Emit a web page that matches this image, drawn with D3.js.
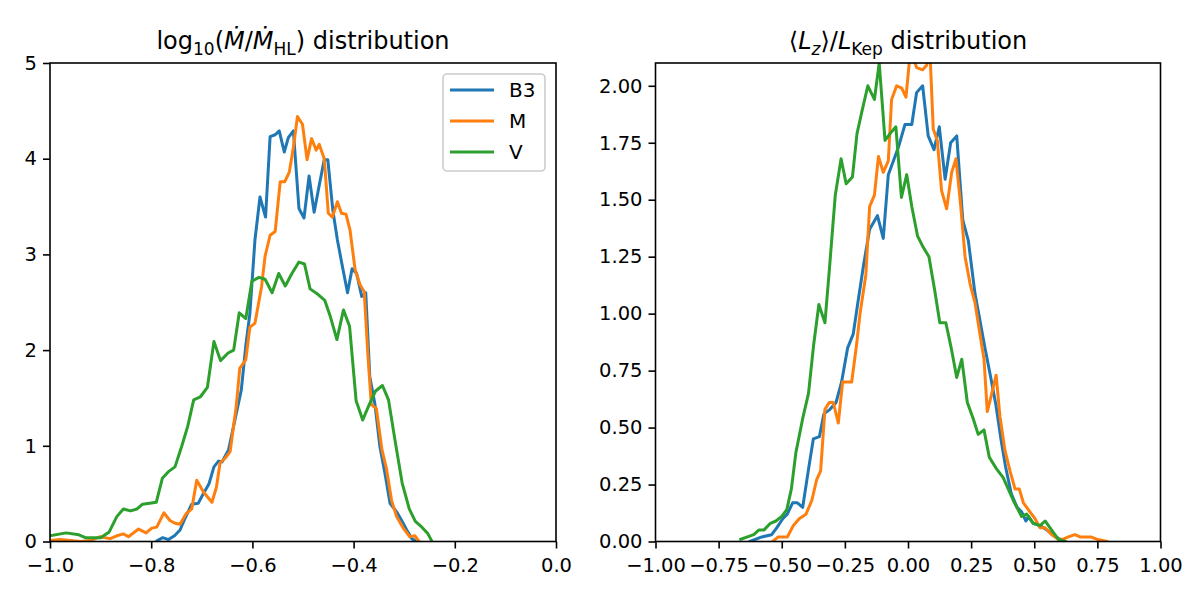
<!DOCTYPE html>
<html>
<head>
<meta charset="utf-8">
<script src="https://cdn.jsdelivr.net/npm/d3@7"></script>
<style>
  body { margin: 0; background: #fff; }
  text { font-family: "DejaVu Sans", sans-serif; fill: #000; }
</style>
</head>
<body>
<svg id="chart" width="1200" height="600"></svg>
<script>
// Series names and colours (matplotlib tab10).
const seriesNames = ["B3", "M", "V"];
const seriesColors = ["#1f77b4", "#ff7f0e", "#2ca02c"];

// log10(Mdot/Mdot_HL) histograms: [bin centre, density]
const mdotB3 = [[-0.788,0.01],[-0.777,0.04],[-0.766,0.02],[-0.754,0.06],[-0.743,0.12],[-0.735,0.22],[-0.728,0.30],[-0.720,0.39],[-0.707,0.40],[-0.697,0.50],[-0.686,0.60],[-0.676,0.78],[-0.667,0.84],[-0.660,0.83],[-0.647,0.96],[-0.635,1.26],[-0.622,1.58],[-0.613,2.05],[-0.605,2.38],[-0.595,3.15],[-0.585,3.60],[-0.574,3.39],[-0.565,4.23],[-0.555,4.25],[-0.547,4.29],[-0.537,4.07],[-0.529,4.22],[-0.519,4.29],[-0.508,3.48],[-0.498,3.38],[-0.488,3.82],[-0.478,3.44],[-0.468,3.72],[-0.458,3.99],[-0.451,3.99],[-0.441,3.46],[-0.432,3.15],[-0.422,2.87],[-0.412,2.60],[-0.403,2.85],[-0.394,2.80],[-0.384,2.56],[-0.376,2.60],[-0.368,1.72],[-0.358,1.44],[-0.348,0.99],[-0.338,0.71],[-0.328,0.40],[-0.315,0.31],[-0.305,0.22],[-0.295,0.12],[-0.285,0.03],[-0.279,0.01]];
const mdotM = [[-1.000,0.01],[-0.980,0.02],[-0.960,0.01],[-0.940,0.00],[-0.920,0.01],[-0.901,0.05],[-0.881,0.03],[-0.868,0.06],[-0.855,0.08],[-0.845,0.05],[-0.825,0.13],[-0.810,0.09],[-0.799,0.14],[-0.789,0.15],[-0.775,0.30],[-0.763,0.22],[-0.753,0.19],[-0.743,0.18],[-0.731,0.29],[-0.720,0.34],[-0.710,0.64],[-0.697,0.52],[-0.680,0.41],[-0.671,0.57],[-0.664,0.82],[-0.654,0.87],[-0.644,0.94],[-0.632,1.41],[-0.625,1.81],[-0.613,1.90],[-0.605,2.24],[-0.595,2.28],[-0.582,2.66],[-0.575,2.98],[-0.565,3.20],[-0.555,3.24],[-0.545,3.76],[-0.536,3.76],[-0.527,3.86],[-0.519,4.12],[-0.511,4.44],[-0.501,4.36],[-0.492,3.99],[-0.483,4.21],[-0.474,4.09],[-0.468,4.15],[-0.458,4.00],[-0.450,3.43],[-0.442,3.39],[-0.432,3.55],[-0.424,3.43],[-0.415,3.42],[-0.407,3.25],[-0.397,2.84],[-0.387,2.68],[-0.379,2.61],[-0.372,1.97],[-0.365,1.43],[-0.355,1.39],[-0.344,0.96],[-0.335,0.76],[-0.325,0.43],[-0.315,0.26],[-0.302,0.14],[-0.289,0.05],[-0.279,0.06],[-0.272,0.01]];
const mdotV = [[-1.000,0.06],[-0.968,0.09],[-0.943,0.07],[-0.930,0.04],[-0.900,0.04],[-0.883,0.10],[-0.868,0.26],[-0.855,0.34],[-0.841,0.32],[-0.828,0.34],[-0.817,0.39],[-0.803,0.40],[-0.790,0.41],[-0.778,0.66],[-0.766,0.73],[-0.753,0.78],[-0.740,0.99],[-0.728,1.20],[-0.716,1.48],[-0.703,1.51],[-0.689,1.61],[-0.676,2.09],[-0.663,1.89],[-0.648,1.97],[-0.637,2.00],[-0.626,2.39],[-0.613,2.33],[-0.601,2.72],[-0.587,2.76],[-0.575,2.74],[-0.561,2.60],[-0.548,2.80],[-0.535,2.67],[-0.522,2.80],[-0.508,2.92],[-0.497,2.90],[-0.486,2.64],[-0.470,2.58],[-0.457,2.52],[-0.446,2.35],[-0.433,2.11],[-0.420,2.42],[-0.408,2.25],[-0.395,1.47],[-0.382,1.27],[-0.370,1.42],[-0.357,1.57],[-0.343,1.63],[-0.331,1.48],[-0.317,1.02],[-0.304,0.61],[-0.290,0.34],[-0.278,0.21],[-0.265,0.15],[-0.253,0.08],[-0.246,0.01]];

// <L_z>/L_Kep histograms: [bin centre, density]
const lzB3 = [[-0.626,0.00],[-0.579,0.02],[-0.540,0.03],[-0.520,0.06],[-0.496,0.10],[-0.478,0.12],[-0.457,0.17],[-0.438,0.17],[-0.417,0.15],[-0.395,0.31],[-0.375,0.45],[-0.351,0.46],[-0.333,0.56],[-0.309,0.58],[-0.285,0.61],[-0.263,0.70],[-0.239,0.85],[-0.217,0.91],[-0.197,1.06],[-0.175,1.22],[-0.152,1.37],[-0.121,1.43],[-0.098,1.33],[-0.078,1.61],[-0.058,1.67],[-0.038,1.73],[-0.012,1.83],[0.015,1.83],[0.034,1.97],[0.058,2.00],[0.080,1.78],[0.103,1.72],[0.124,1.82],[0.147,1.59],[0.169,1.75],[0.193,1.78],[0.217,1.41],[0.239,1.32],[0.265,1.09],[0.280,1.00],[0.303,0.86],[0.326,0.73],[0.348,0.60],[0.368,0.45],[0.386,0.33],[0.409,0.21],[0.432,0.15],[0.450,0.13],[0.467,0.09],[0.477,0.11],[0.496,0.08],[0.523,0.07],[0.550,0.05],[0.575,0.03],[0.600,0.01],[0.620,0.00]];
const lzM = [[-0.536,0.00],[-0.514,0.02],[-0.478,0.02],[-0.454,0.07],[-0.431,0.10],[-0.404,0.12],[-0.381,0.18],[-0.362,0.27],[-0.346,0.31],[-0.329,0.58],[-0.312,0.61],[-0.296,0.61],[-0.276,0.52],[-0.259,0.70],[-0.223,0.70],[-0.203,0.87],[-0.190,1.00],[-0.167,1.17],[-0.152,1.47],[-0.133,1.52],[-0.117,1.69],[-0.098,1.62],[-0.078,1.67],[-0.065,1.94],[-0.045,2.00],[-0.025,1.99],[-0.008,1.95],[0.010,2.16],[0.034,2.08],[0.058,2.07],[0.074,2.09],[0.085,2.20],[0.100,1.81],[0.116,1.76],[0.133,1.54],[0.153,1.46],[0.173,1.62],[0.190,1.68],[0.209,1.47],[0.226,1.25],[0.246,1.13],[0.265,1.05],[0.285,0.91],[0.301,0.80],[0.314,0.57],[0.332,0.65],[0.349,0.73],[0.364,0.55],[0.384,0.40],[0.404,0.31],[0.424,0.23],[0.441,0.23],[0.457,0.17],[0.483,0.13],[0.503,0.10],[0.523,0.06],[0.543,0.06],[0.569,0.03],[0.595,0.01],[0.615,0.01],[0.635,0.02],[0.661,0.03],[0.681,0.02],[0.701,0.02],[0.724,0.02],[0.747,0.01],[0.787,0.00]];
const lzV = [[-0.662,0.01],[-0.636,0.02],[-0.611,0.03],[-0.591,0.05],[-0.571,0.05],[-0.545,0.08],[-0.523,0.09],[-0.500,0.11],[-0.480,0.14],[-0.462,0.23],[-0.444,0.39],[-0.417,0.54],[-0.394,0.65],[-0.374,0.86],[-0.353,1.04],[-0.329,0.96],[-0.311,1.20],[-0.288,1.52],[-0.265,1.68],[-0.245,1.57],[-0.220,1.60],[-0.202,1.79],[-0.182,1.89],[-0.159,2.00],[-0.133,1.94],[-0.114,2.10],[-0.091,1.76],[-0.071,1.79],[-0.048,1.82],[-0.026,1.51],[-0.005,1.61],[0.015,1.47],[0.038,1.34],[0.061,1.29],[0.083,1.25],[0.106,1.10],[0.126,0.96],[0.150,0.96],[0.171,0.85],[0.193,0.72],[0.213,0.80],[0.235,0.61],[0.258,0.54],[0.278,0.47],[0.301,0.49],[0.322,0.37],[0.350,0.32],[0.377,0.28],[0.417,0.18],[0.450,0.11],[0.470,0.12],[0.496,0.08],[0.523,0.07],[0.543,0.09],[0.569,0.05],[0.595,0.01],[0.622,0.00]];

// Tick values.
const mdotXTicks = [-1.0, -0.8, -0.6, -0.4, -0.2, 0.0];
const mdotYTicks = [0, 1, 2, 3, 4, 5];
const lzXTicks = [-1.0, -0.75, -0.5, -0.25, 0.0, 0.25, 0.5, 0.75, 1.0];
const lzYTicks = [0, 0.25, 0.5, 0.75, 1.0, 1.25, 1.5, 1.75, 2.0];

const svg = d3.select("#chart");
const plotTop = 63, plotBottom = 541.5;
const tickFont = "19.5px";

function drawPanel(p) {
  const x = d3.scaleLinear().domain(p.xDomain).range([p.left, p.right]);
  const y = d3.scaleLinear().domain(p.yDomain).range([plotBottom, plotTop]);

  const clipId = "clip-" + p.id;
  svg.append("clipPath").attr("id", clipId)
    .append("rect")
    .attr("x", p.left).attr("y", plotTop)
    .attr("width", p.right - p.left).attr("height", plotBottom - plotTop);

  const line = d3.line().x(d => x(d[0])).y(d => y(d[1]));

  svg.append("g").attr("clip-path", `url(#${clipId})`)
    .selectAll("path")
    .data(p.series)
    .enter()
    .append("path")
    .attr("d", d => line(d))
    .attr("fill", "none")
    .attr("stroke", (d, i) => seriesColors[i])
    .attr("stroke-width", 3)
    .attr("stroke-linejoin", "round")
    .attr("stroke-linecap", "square");

  // x axis
  const gx = svg.append("g")
    .attr("transform", `translate(0,${plotBottom})`)
    .call(d3.axisBottom(x).tickValues(p.xTicks).tickFormat(d3.format(p.xFmt))
      .tickSize(7).tickPadding(10));
  gx.select(".domain").remove();
  gx.selectAll(".tick line").attr("stroke", "#000").attr("stroke-width", 1.6);
  gx.selectAll(".tick text").style("font-size", tickFont).style("font-family", "DejaVu Sans");

  // y axis
  const gy = svg.append("g")
    .attr("transform", `translate(${p.left},0)`)
    .call(d3.axisLeft(y).tickValues(p.yTicks).tickFormat(d3.format(p.yFmt))
      .tickSize(7).tickPadding(6));
  gy.select(".domain").remove();
  gy.selectAll(".tick line").attr("stroke", "#000").attr("stroke-width", 1.6);
  gy.selectAll(".tick text").style("font-size", tickFont).style("font-family", "DejaVu Sans");

  // spines
  svg.append("rect")
    .attr("x", p.left).attr("y", plotTop)
    .attr("width", p.right - p.left).attr("height", plotBottom - plotTop)
    .attr("fill", "none").attr("stroke", "#000").attr("stroke-width", 1.6);

  // title with math-like pieces
  const title = svg.append("text")
    .attr("x", (p.left + p.right) / 2)
    .attr("y", 49)
    .attr("text-anchor", "middle")
    .style("font-size", "24px");
  let shift = 0;
  p.title.forEach(part => {
    const want = part.sub ? 5.5 : 0;
    title.append("tspan").text(part.t)
      .attr("dy", want - shift)
      .style("font-size", part.sub ? "17px" : "24px")
      .style("font-style", part.it ? "italic" : "normal");
    shift = want;
  });
}

drawPanel({
  id: "mdot", left: 50, right: 556,
  xDomain: [-1, 0], yDomain: [0, 5],
  xTicks: mdotXTicks, yTicks: mdotYTicks, xFmt: ".1f", yFmt: "d",
  series: [mdotB3, mdotM, mdotV],
  title: [
    { t: "log" }, { t: "10", sub: true }, { t: "(" }, { t: "Ṁ", it: true }, { t: "/" },
    { t: "Ṁ", it: true }, { t: "HL", sub: true }, { t: ") distribution" }
  ]
});

drawPanel({
  id: "lz", left: 655.5, right: 1160.5,
  xDomain: [-1, 1], yDomain: [0, 2.1],
  xTicks: lzXTicks, yTicks: lzYTicks, xFmt: ".2f", yFmt: ".2f",
  series: [lzB3, lzM, lzV],
  title: [
    { t: "⟨" }, { t: "L", it: true }, { t: "z", it: true, sub: true }, { t: "⟩/" },
    { t: "L", it: true }, { t: "Kep", sub: true }, { t: " distribution" }
  ]
});

// Legend in the left panel.
const legend = svg.append("g");
legend.append("rect")
  .attr("x", 443).attr("y", 74).attr("width", 102).attr("height", 97)
  .attr("rx", 4).attr("fill", "#fff").attr("fill-opacity", 0.8)
  .attr("stroke", "#cccccc").attr("stroke-width", 1.6);
const rows = legend.selectAll("g.row")
  .data(seriesNames)
  .enter()
  .append("g")
  .attr("class", "row")
  .attr("transform", (d, i) => `translate(450,${90 + i * 31})`);
rows.append("line")
  .attr("x1", 0).attr("x2", 44)
  .attr("stroke", (d, i) => seriesColors[i])
  .attr("stroke-width", 3);
rows.append("text")
  .attr("x", 59).attr("y", 7)
  .style("font-size", "20px")
  .text(d => d);
</script>
</body>
</html>
